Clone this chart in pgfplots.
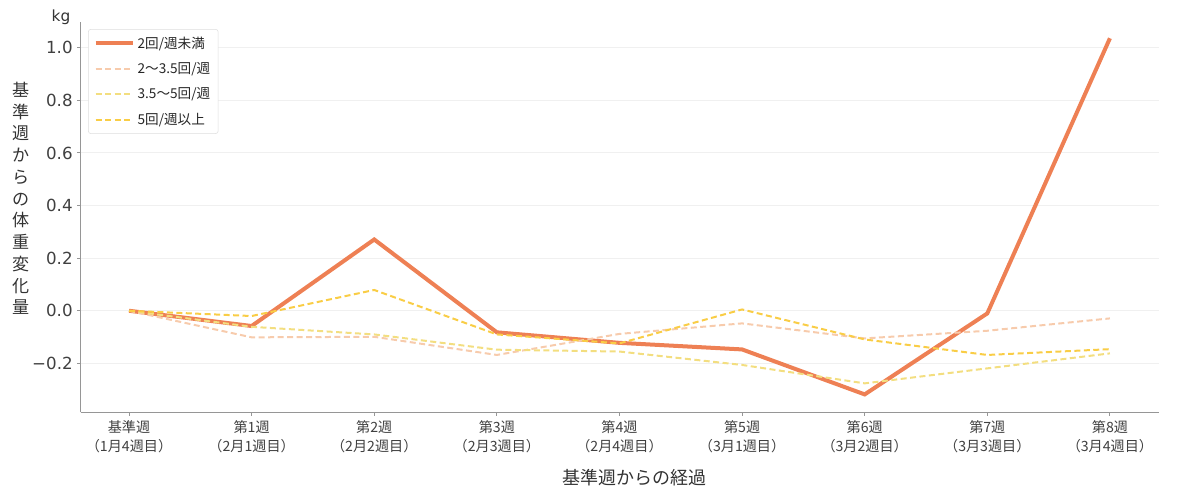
\documentclass[border=0pt]{standalone}
\usepackage{fontspec}
\setmainfont{DejaVu Sans}
\newfontfamily\jp{Noto Sans CJK JP}
\usepackage{pgfplots}
\pgfplotsset{compat=1.18}

\definecolor{lowfreq}{RGB}{238,128,84}
\definecolor{peach}{RGB}{247,203,172}
\definecolor{paleyel}{RGB}{243,222,128}
\definecolor{gold}{RGB}{249,205,70}
\definecolor{spine}{RGB}{150,150,150}

\begin{document}
\begin{tikzpicture}[x=0.75pt,y=0.75pt]
  \useasboundingbox (0,0) rectangle (1200,502);
  \begin{axis}[
      at={(60.525pt,67.275pt)}, anchor=south west,
      scale only axis, width=808.7pt, height=292.95pt,
      xmin=-0.394, xmax=8.4, ymin=-0.386, ymax=1.099,
      axis x line*=bottom, axis y line*=left,
      axis line style={draw=spine, line width=0.9pt, -},
      tick align=outside, major tick length=2.5pt,
      tick style={draw=spine, line width=0.7pt},
      ytick={-0.2,0,0.2,0.4,0.6,0.8,1.0},
      yticklabels={−0.2,0.0,0.2,0.4,0.6,0.8,1.0},
      yticklabel style={font=\fontsize{12.5}{14}\selectfont, text=black!75},
      xtick={0,...,8},
      xticklabels={基準週\\（1月4週目）,第1週\\（2月1週目）,第2週\\（2月2週目）,
        第3週\\（2月3週目）,第4週\\（2月4週目）,第5週\\（3月1週目）,
        第6週\\（3月2週目）,第7週\\（3月3週目）,第8週\\（3月4週目）},
      xticklabel style={align=center, font=\jp\fontsize{10.6}{14.4}\selectfont, text=black!75},
      ymajorgrids, grid style={draw=black!6, line width=0.8pt},
      legend style={at={(0,1)}, anchor=north west, xshift=5.5pt, yshift=-5.5pt,
        draw=black!13, rounded corners=2pt, fill=white,
        font=\jp\fontsize{10.2}{12}\selectfont, text=black!85,
        row sep=5.2pt, inner xsep=4pt, inner ysep=3.5pt},
      legend cell align=left,
      legend image code/.code={\draw[#1] (0pt,0pt) -- (28pt,0pt);},
    ]

    %% --- 2回/週未満 ---
    \addplot[lowfreq, line width=3pt] coordinates {
      (0,0) (1,-0.058) (2,0.271) (3,-0.082) (4,-0.122)
      (5,-0.147) (6,-0.318) (7,-0.010) (8,1.036)
    };
    \addlegendentry{2回/週未満}

    %% --- 2〜3.5回/週 ---
    \addplot[peach, line width=1.5pt, dash pattern=on 4.5pt off 2.6pt] coordinates {
      (0,0) (1,-0.101) (2,-0.099) (3,-0.168) (4,-0.088)
      (5,-0.048) (6,-0.105) (7,-0.076) (8,-0.029)
    };
    \addlegendentry{2〜3.5回/週}

    %% --- 3.5〜5回/週 ---
    \addplot[paleyel, line width=1.5pt, dash pattern=on 4.5pt off 2.6pt] coordinates {
      (0,0) (1,-0.061) (2,-0.090) (3,-0.148) (4,-0.155)
      (5,-0.206) (6,-0.276) (7,-0.219) (8,-0.162)
    };
    \addlegendentry{3.5〜5回/週}

    %% --- 5回/週以上 ---
    \addplot[gold, line width=1.5pt, dash pattern=on 4.5pt off 2.6pt] coordinates {
      (0,0) (1,-0.020) (2,0.079) (3,-0.090) (4,-0.124)
      (5,0.005) (6,-0.109) (7,-0.168) (8,-0.146)
    };
    \addlegendentry{5回/週以上}

  \end{axis}

  %% --- labels around the axis ---
  \node[font=\fontsize{11.5}{13}\selectfont, text=black!80] at (61,485) {kg};
  \node[align=center, font=\jp\fontsize{12.8}{16.3}\selectfont, text=black!80]
    at (20.7,303.5) {基\\準\\週\\か\\ら\\の\\体\\重\\変\\化\\量};
  \node[font=\jp\fontsize{13.5}{16}\selectfont, text=black!80] at (634,24) {基準週からの経過};
\end{tikzpicture}
\end{document}
